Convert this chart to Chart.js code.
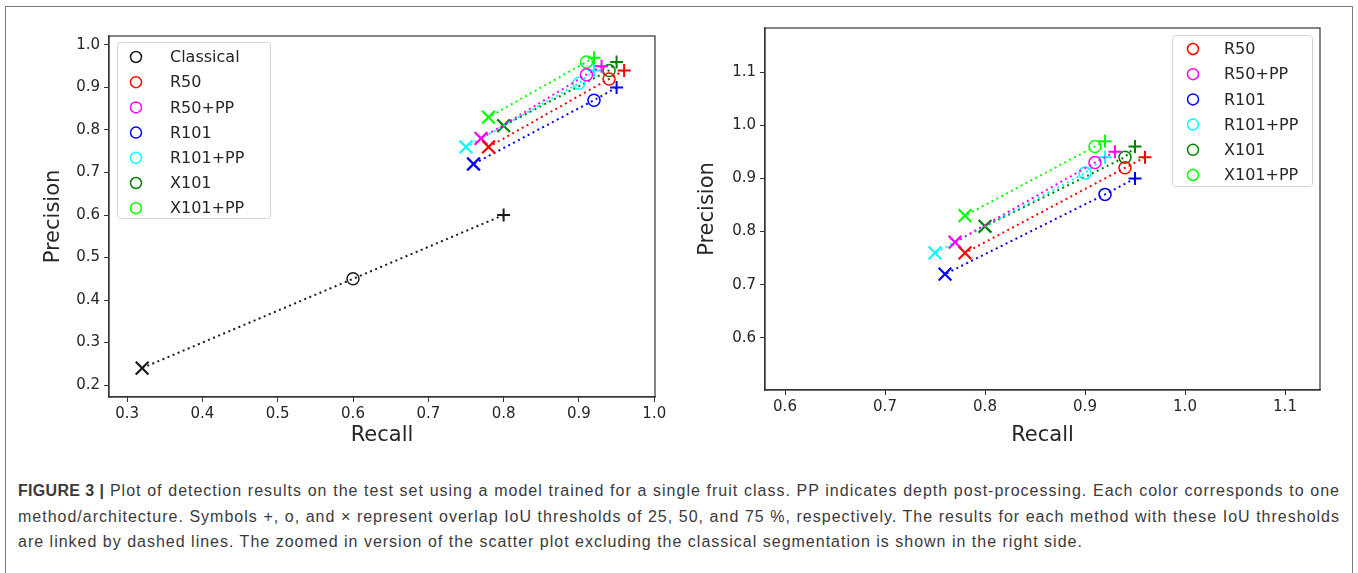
<!DOCTYPE html>
<html>
<head>
<meta charset="utf-8">
<script src="https://cdn.jsdelivr.net/npm/chart.js@4.4.1/dist/chart.umd.min.js"></script>
<style>
  body { margin: 0; background: #fff; width: 1358px; height: 573px; overflow: hidden; position: relative; }
  #frame { position: absolute; left: 5px; top: 6px; width: 1346px; height: 620px; border: 1px solid #7a7a7a; }
  canvas { position: absolute; }
  #left { left: 20px; top: 20px; }
  #right { left: 680px; top: 10px; }
  #caption { position: absolute; left: 18px; top: 478px; width: 1322px; font-family: "Liberation Sans", Arial, sans-serif;
             font-size: 16px; letter-spacing: 1px; color: #3a3a3a; line-height: 25.5px; }
  .just { text-align: justify; text-align-last: justify; }
</style>
</head>
<body>
<div id="frame"></div>
<canvas id="left" width="650" height="440"></canvas>
<canvas id="right" width="660" height="460"></canvas>
<div id="caption">
  <div class="just"><b style="letter-spacing:0.3px">FIGURE 3 |</b> Plot of detection results on the test set using a model trained for a single fruit class. PP indicates depth post-processing. Each color corresponds to one</div>
  <div class="just">method/architecture. Symbols +, o, and &times; represent overlap IoU thresholds of 25, 50, and 75 %, respectively. The results for each method with these IoU thresholds</div>
  <div>are linked by dashed lines. The zoomed in version of the scatter plot excluding the classical segmentation is shown in the right side.</div>
</div>
<script>
// methods and their results at IoU 25 / 50 / 75
const methods = ['Classical', 'R50', 'R50+PP', 'R101', 'R101+PP', 'X101', 'X101+PP'];
const recall25    = [0.80, 0.96, 0.93, 0.95, 0.92, 0.95, 0.92];
const precision25 = [0.60, 0.94, 0.95, 0.90, 0.94, 0.96, 0.97];
const recall50    = [0.60, 0.94, 0.91, 0.92, 0.90, 0.94, 0.91];
const precision50 = [0.45, 0.92, 0.93, 0.87, 0.91, 0.94, 0.96];
const recall75    = [0.32, 0.78, 0.77, 0.76, 0.75, 0.80, 0.78];
const precision75 = [0.24, 0.76, 0.78, 0.72, 0.76, 0.81, 0.83];

const leftXTicks  = [0.3, 0.4, 0.5, 0.6, 0.7, 0.8, 0.9, 1.0];
const leftYTicks  = [0.2, 0.3, 0.4, 0.5, 0.6, 0.7, 0.8, 0.9, 1.0];
const rightXTicks = [0.6, 0.7, 0.8, 0.9, 1.0, 1.1];
const rightYTicks = [0.6, 0.7, 0.8, 0.9, 1.0, 1.1];

const colors = ['#1a1a1a', '#ff0000', '#ff00ff', '#0000ff', '#00ffff', '#008000', '#00ff00'];
const textColor = '#262626';

function makeSet(i) {
    return {
        label: methods[i],
        data: [
            { x: recall25[i], y: precision25[i] },
            { x: recall50[i], y: precision50[i] },
            { x: recall75[i], y: precision75[i] }
        ],
        showLine: true,
        borderColor: colors[i],
        borderWidth: 2,
        borderDash: [2, 3.5],
        pointStyle: ['cross', 'circle', 'crossRot'],
        pointRadius: [6.5, 6, 9],
        pointBorderWidth: [2, 1.5, 2.2],
        pointBorderColor: colors[i],
        pointBackgroundColor: 'rgba(0,0,0,0)'
    };
}

// box around the plot area
const framePlugin = {
    id: 'frameBox',
    afterDatasetsDraw(chart) {
        const { ctx, chartArea: a } = chart;
        ctx.save();
        ctx.strokeStyle = '#333';
        ctx.lineWidth = 1.2;
        ctx.strokeRect(a.left, a.top, a.right - a.left, a.bottom - a.top);
        ctx.restore();
    }
};

// matplotlib-like legend inside the axes
const legendPlugin = {
    id: 'boxLegend',
    afterDraw(chart, args, opts) {
        const { ctx, chartArea: a } = chart;
        const sets = chart.data.datasets;
        const h = sets.length * 25 + 1;
        const left = opts.side === 'left' ? a.left + 8 : a.right - 8 - opts.width;
        const top = a.top + opts.top;
        ctx.save();
        ctx.beginPath();
        ctx.roundRect(left + 0.5, top + 0.5, opts.width, h, 3);
        ctx.fillStyle = 'rgba(255,255,255,0.85)';
        ctx.fill();
        ctx.strokeStyle = '#d4d4d4';
        ctx.lineWidth = 1;
        ctx.stroke();
        ctx.font = '16px "DejaVu Sans"';
        ctx.textBaseline = 'middle';
        sets.forEach((ds, i) => {
            const y = top + opts.first + i * 25.2;
            ctx.beginPath();
            ctx.arc(left + opts.markerX, y, 5.5, 0, Math.PI * 2);
            ctx.strokeStyle = ds.borderColor;
            ctx.lineWidth = 1.5;
            ctx.stroke();
            ctx.fillStyle = textColor;
            ctx.fillText(ds.label, left + opts.textX, y + 1);
        });
        ctx.restore();
    }
};

function axis(pos, min, max, ticks, size, titlePad) {
    const isX = pos === 'bottom';
    return {
        type: 'linear',
        position: pos,
        min: min,
        max: max,
        afterBuildTicks: s => { s.ticks = ticks.map(v => ({ value: v })); },
        afterFit: s => { if (isX) s.height = size; else s.width = size; },
        grid: { drawOnChartArea: false, drawTicks: true, tickLength: 5, color: '#333', lineWidth: 1 },
        border: { display: true, color: '#333', width: 1.2 },
        ticks: {
            color: textColor,
            font: { family: 'DejaVu Sans', size: 15 },
            padding: isX ? 3 : 4,
            maxRotation: 0,
            callback: v => v.toFixed(1)
        },
        title: {
            display: true,
            text: isX ? 'Recall' : 'Precision',
            color: textColor,
            font: { family: 'DejaVu Sans', size: 21 },
            padding: isX ? { top: 0, bottom: 0 } : { top: titlePad, bottom: 0 }
        }
    };
}

function makeChart(id, idxs, xr, yr, xt, yt, pad, xH, yW, titlePad, legendOpts) {
    return new Chart(document.getElementById(id), {
        type: 'scatter',
        data: { datasets: idxs.map(makeSet) },
        options: {
            responsive: false,
            animation: false,
            devicePixelRatio: 1,
            layout: { padding: pad },
            scales: {
                x: axis('bottom', xr[0], xr[1], xt, xH, 0),
                y: axis('left', yr[0], yr[1], yt, yW, titlePad)
            },
            plugins: {
                legend: { display: false },
                tooltip: { enabled: false },
                boxLegend: legendOpts
            }
        },
        plugins: [framePlugin, legendPlugin]
    });
}

makeChart('left', [0, 1, 2, 3, 4, 5, 6], [0.276, 1.001], [0.172, 1.021], leftXTicks, leftYTicks,
    { top: 16, right: 15, bottom: 12, left: 0 }, 51, 89, 21,
    { side: 'left', width: 153, top: 6, first: 15, markerX: 19, textX: 53 });

makeChart('right', [1, 2, 3, 4, 5, 6], [0.58, 1.135], [0.502, 1.183], rightXTicks, rightYTicks,
    { top: 18, right: 20, bottom: 22, left: 0 }, 58, 85, 15,
    { side: 'right', width: 140, top: 7, first: 14, markerX: 21, textX: 52 });
</script>
</body>
</html>
